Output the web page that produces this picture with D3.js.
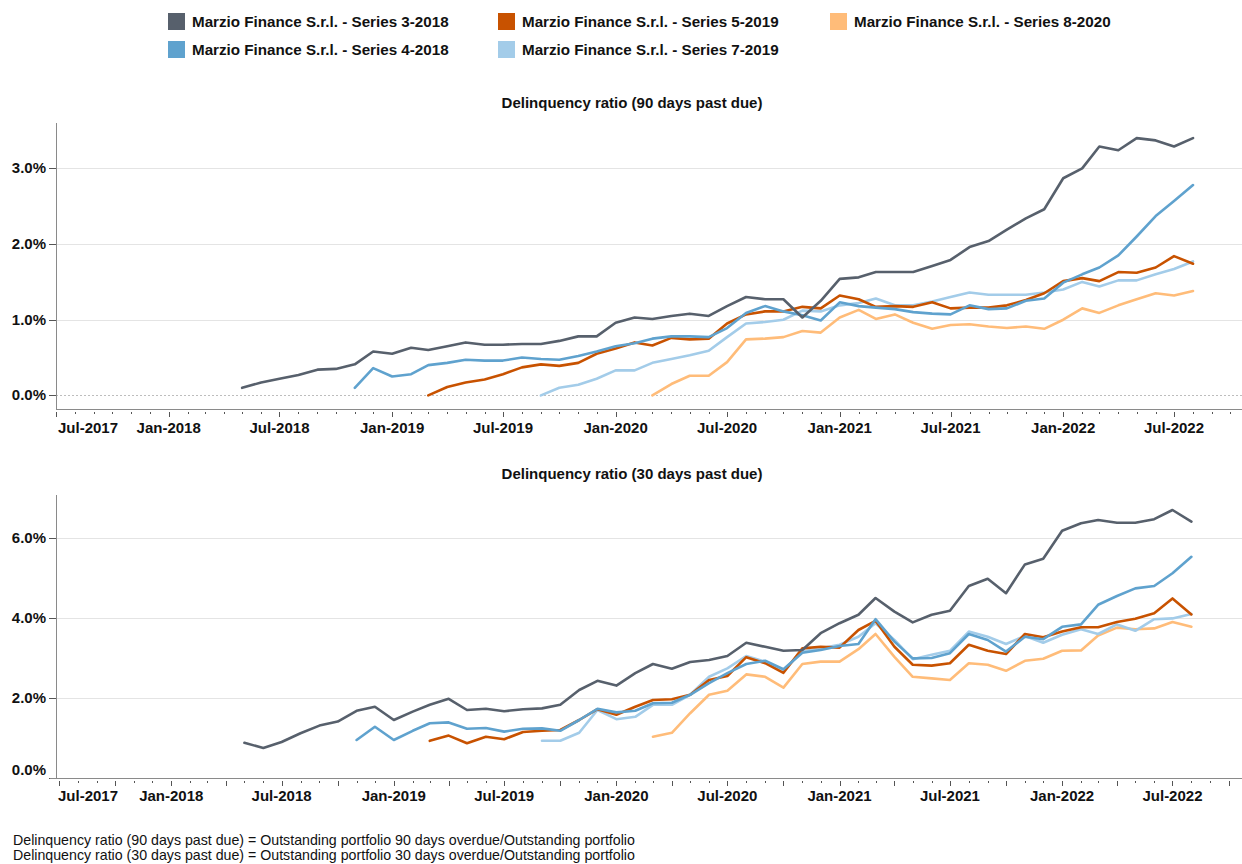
<!DOCTYPE html>
<html>
<head>
<meta charset="utf-8">
<script src="https://cdn.jsdelivr.net/npm/d3@7"></script>
<style>
  body { margin: 0; background: #fff; }
  text { font-family: Arial, "Liberation Sans", sans-serif; }
</style>
</head>
<body>
<div id="vis"></div>
<script>
// series names + colours (tableau colour blind palette)
var seriesNames = [
  "Marzio Finance S.r.l. - Series 3-2018",
  "Marzio Finance S.r.l. - Series 4-2018",
  "Marzio Finance S.r.l. - Series 5-2019",
  "Marzio Finance S.r.l. - Series 7-2019",
  "Marzio Finance S.r.l. - Series 8-2020"
];
var seriesColors = ["#57606c", "#5fa2ce", "#c85200", "#a3cce9", "#ffbc79"];
// first reporting month of each series, all run monthly until Aug 2022
var seriesStart = ["2018-05", "2018-11", "2019-03", "2019-09", "2020-03"];

// delinquency ratio 90 days past due (%)
var dpd90_s3 = [0.10, 0.17, 0.22, 0.27, 0.34, 0.35, 0.41, 0.58, 0.55, 0.63, 0.60, 0.65, 0.70, 0.67, 0.67, 0.68, 0.68, 0.72, 0.78, 0.78,
  0.96, 1.03, 1.01, 1.05, 1.08, 1.05, 1.18, 1.30, 1.27, 1.27, 1.03, 1.25, 1.54, 1.56, 1.63, 1.63, 1.63, 1.71, 1.79, 1.96,
  2.04, 2.19, 2.34, 2.46, 2.87, 3.00, 3.29, 3.24, 3.40, 3.37, 3.29, 3.40];
var dpd90_s4 = [0.10, 0.36, 0.25, 0.28, 0.40, 0.43, 0.47, 0.46, 0.46, 0.50, 0.48, 0.47, 0.52, 0.58, 0.65, 0.69, 0.75, 0.78, 0.78, 0.77,
  0.89, 1.09, 1.18, 1.11, 1.06, 0.99, 1.23, 1.18, 1.16, 1.14, 1.10, 1.08, 1.07, 1.19, 1.14, 1.15, 1.25, 1.28, 1.49, 1.60,
  1.69, 1.85, 2.10, 2.37, 2.57, 2.78];
var dpd90_s5 = [0.00, 0.11, 0.17, 0.21, 0.28, 0.37, 0.41, 0.39, 0.43, 0.55, 0.62, 0.70, 0.66, 0.76, 0.74, 0.75, 0.95, 1.07, 1.11, 1.11,
  1.17, 1.15, 1.32, 1.27, 1.17, 1.18, 1.17, 1.23, 1.15, 1.16, 1.16, 1.19, 1.26, 1.35, 1.51, 1.55, 1.51, 1.63, 1.62, 1.69,
  1.84, 1.74];
var dpd90_s7 = [0.00, 0.10, 0.14, 0.22, 0.33, 0.33, 0.43, 0.48, 0.53, 0.59, 0.77, 0.95, 0.97, 1.00, 1.12, 1.11, 1.19, 1.22, 1.28, 1.19,
  1.19, 1.24, 1.30, 1.36, 1.33, 1.33, 1.33, 1.36, 1.40, 1.50, 1.44, 1.52, 1.52, 1.60, 1.67, 1.77];
var dpd90_s8 = [0.00, 0.15, 0.26, 0.26, 0.44, 0.74, 0.75, 0.77, 0.85, 0.83, 1.03, 1.13, 1.01, 1.07, 0.96, 0.88, 0.93, 0.94, 0.91, 0.89,
  0.91, 0.88, 1.00, 1.15, 1.09, 1.19, 1.27, 1.35, 1.32, 1.38];

// delinquency ratio 30 days past due (%)
var dpd30_s3 = [0.88, 0.75, 0.90, 1.12, 1.31, 1.41, 1.68, 1.78, 1.45, 1.66, 1.83, 1.98, 1.70, 1.73, 1.67, 1.72, 1.74, 1.83, 2.20, 2.43,
  2.31, 2.62, 2.85, 2.73, 2.90, 2.95, 3.05, 3.38, 3.28, 3.18, 3.20, 3.62, 3.87, 4.08, 4.50, 4.16, 3.89, 4.08, 4.18, 4.80,
  4.98, 4.62, 5.34, 5.48, 6.18, 6.37, 6.45, 6.38, 6.38, 6.47, 6.70, 6.41];
var dpd30_s4 = [0.95, 1.28, 0.95, 1.18, 1.37, 1.39, 1.23, 1.25, 1.16, 1.23, 1.24, 1.18, 1.45, 1.73, 1.64, 1.68, 1.87, 1.88, 2.08, 2.37,
  2.62, 2.85, 2.93, 2.72, 3.13, 3.20, 3.30, 3.35, 3.97, 3.41, 2.99, 3.00, 3.12, 3.60, 3.45, 3.16, 3.53, 3.47, 3.78, 3.84,
  4.33, 4.55, 4.74, 4.80, 5.12, 5.53];
var dpd30_s5 = [0.93, 1.06, 0.87, 1.03, 0.97, 1.15, 1.18, 1.20, 1.45, 1.72, 1.58, 1.78, 1.95, 1.97, 2.08, 2.45, 2.55, 3.02, 2.87, 2.63,
  3.24, 3.28, 3.26, 3.70, 3.93, 3.28, 2.83, 2.81, 2.87, 3.33, 3.18, 3.10, 3.60, 3.52, 3.66, 3.77, 3.77, 3.90, 3.98, 4.12,
  4.49, 4.09];
var dpd30_s7 = [0.93, 0.93, 1.13, 1.70, 1.47, 1.53, 1.83, 1.83, 2.08, 2.53, 2.74, 3.05, 2.91, 2.70, 3.16, 3.24, 3.33, 3.53, 3.87, 3.45,
  2.97, 3.08, 3.18, 3.66, 3.53, 3.35, 3.55, 3.38, 3.58, 3.72, 3.60, 3.84, 3.68, 3.97, 3.99, 4.10];
var dpd30_s8 = [1.03, 1.13, 1.62, 2.08, 2.18, 2.59, 2.53, 2.26, 2.85, 2.91, 2.91, 3.22, 3.60, 3.03, 2.53, 2.49, 2.45, 2.87, 2.83, 2.68,
  2.93, 2.98, 3.18, 3.19, 3.56, 3.76, 3.72, 3.74, 3.90, 3.78];

var ticks90 = [0, 1, 2, 3];
var ticks30 = [0, 2, 4, 6];
var footnotes = [
  "Delinquency ratio (90 days past due) = Outstanding portfolio 90 days overdue/Outstanding portfolio",
  "Delinquency ratio (30 days past due) = Outstanding portfolio 30 days overdue/Outstanding portfolio"
];

var width = 1242, height = 864;
var parseMonth = d3.timeParse("%Y-%m");
var fmtMonth = d3.timeFormat("%b-%Y");

var svg = d3.select("#vis").append("svg")
  .attr("width", width)
  .attr("height", height)
  .style("display", "block");

svg.append("rect").attr("width", width).attr("height", height).attr("fill", "#fff");

// legend
var legendX = [168, 498, 830];
var legendY = [13, 41];
var legend = svg.append("g");
seriesNames.forEach(function (name, i) {
  var col = i < 2 ? 0 : (i < 4 ? 1 : 2);
  var row = (i === 0 || i === 2 || i === 4) ? 0 : 1;
  var g = legend.append("g").attr("transform", "translate(" + legendX[col] + "," + legendY[row] + ")");
  g.append("rect").attr("width", 17).attr("height", 17).attr("fill", seriesColors[i]);
  g.append("text").attr("x", 24).attr("y", 14)
    .attr("font-size", 15.2).attr("font-weight", "bold").attr("fill", "#111")
    .text(name);
});

function toSeries(arrays) {
  return arrays.map(function (vals, i) {
    var start = parseMonth(seriesStart[i]);
    return vals.map(function (v, j) {
      return { date: d3.timeMonth.offset(start, j), value: v };
    });
  });
}

function drawChart(opt) {
  var g = svg.append("g");
  var x = d3.scaleTime().domain(opt.xDomain).range([56, width]);
  var y = d3.scaleLinear().domain(opt.yDomain).range([opt.bottom, opt.top]);

  // title
  g.append("text").attr("x", 632).attr("y", opt.titleY)
    .attr("text-anchor", "middle").attr("font-size", 15).attr("font-weight", "bold")
    .attr("fill", "#111").text(opt.title);

  // gridlines
  g.selectAll(".grid").data(opt.yTicks).enter().append("line")
    .attr("x1", 56).attr("x2", width)
    .attr("y1", function (d) { return Math.round(y(d)) + 0.5; })
    .attr("y2", function (d) { return Math.round(y(d)) + 0.5; })
    .attr("stroke", function (d) { return d === 0 ? "#bdbdbd" : "#e4e4e4"; })
    .attr("stroke-dasharray", function (d) { return d === 0 ? "2,2" : null; })
    .attr("stroke-width", 1);

  // y axis
  g.append("line").attr("x1", 56.5).attr("x2", 56.5).attr("y1", opt.top).attr("y2", opt.axisY)
    .attr("stroke", "#8a8a8a");
  g.selectAll(".ytick").data(opt.yTicks).enter().append("line")
    .attr("x1", 49).attr("x2", 56)
    .attr("y1", function (d) { return Math.round(y(d)) + 0.5; })
    .attr("y2", function (d) { return Math.round(y(d)) + 0.5; })
    .attr("stroke", "#555");
  g.selectAll(".ylab").data(opt.yTicks).enter().append("text")
    .attr("x", 46)
    .attr("y", function (d, i) { return y(d) + 5 - (i === 0 ? opt.zeroShift : 0); })
    .attr("text-anchor", "end").attr("font-size", 15).attr("font-weight", "bold").attr("fill", "#111")
    .text(function (d) { return d.toFixed(1) + "%"; });

  // x axis
  g.append("line").attr("x1", opt.axisX0).attr("x2", width)
    .attr("y1", opt.axisY + 0.5).attr("y2", opt.axisY + 0.5).attr("stroke", "#8a8a8a");
  var months = d3.timeMonth.range(opt.xDomain[0], opt.xDomain[1]);
  g.selectAll(".xtick").data(months).enter().append("line")
    .attr("x1", function (d) { return Math.round(x(d)) + 0.5; })
    .attr("x2", function (d) { return Math.round(x(d)) + 0.5; })
    .attr("y1", opt.axisY + 3)
    .attr("y2", function (d) { return opt.axisY + 3 + (opt.isMajor(d) ? 5 : 2); })
    .attr("stroke", "#555");
  var labelled = months.filter(function (d) { return d.getMonth() % 6 === 0; });
  g.selectAll(".xlab").data(labelled).enter().append("text")
    .attr("x", function (d) { return x(d); })
    .attr("y", opt.labelY)
    .attr("text-anchor", "middle").attr("font-size", 15).attr("font-weight", "bold").attr("fill", "#111")
    .text(function (d) { return fmtMonth(d); })
    .each(function (d) {
      // keep first label inside the pane like the original
      var w = this.getComputedTextLength();
      if (x(d) - w / 2 < 57) {
        d3.select(this).attr("x", 58).attr("text-anchor", "start");
      }
    });

  // lines, oldest series on top
  var line = d3.line()
    .x(function (d) { return x(d.date); })
    .y(function (d) { return y(d.value); });
  var data = toSeries(opt.values);
  for (var i = data.length - 1; i >= 0; i--) {
    g.append("path").datum(data[i])
      .attr("d", line)
      .attr("fill", "none")
      .attr("stroke", seriesColors[i])
      .attr("stroke-width", 2.6)
      .attr("stroke-linejoin", "round")
      .attr("stroke-linecap", "round");
  }
}

drawChart({
  title: "Delinquency ratio (90 days past due)",
  titleY: 108,
  values: [dpd90_s3, dpd90_s4, dpd90_s5, dpd90_s7, dpd90_s8],
  xDomain: [new Date(2017, 6, 1), new Date(2022, 9, 20)],
  yDomain: [-0.18, 3.6],
  yTicks: ticks90,
  top: 123,
  bottom: 409,
  axisY: 409,
  axisX0: 56,
  zeroShift: 0,
  labelY: 433,
  isMajor: function (d) { return d.getMonth() % 6 === 0; }
});

drawChart({
  title: "Delinquency ratio (30 days past due)",
  titleY: 479,
  values: [dpd30_s3, dpd30_s4, dpd30_s5, dpd30_s7, dpd30_s8],
  xDomain: [new Date(2017, 5, 26), new Date(2022, 9, 23)],
  yDomain: [0, 7.075],
  yTicks: ticks30,
  top: 495,
  bottom: 778,
  axisY: 778,
  axisX0: 50,
  zeroShift: 8,
  labelY: 801,
  isMajor: function (d) { return d.getMonth() % 3 === 0; }
});

// footnotes
svg.selectAll(".foot").data(footnotes).enter().append("text")
  .attr("x", 13)
  .attr("y", function (d, i) { return 845 + i * 15; })
  .attr("font-size", 14.2).attr("fill", "#111")
  .text(function (d) { return d; });
</script>
</body>
</html>
